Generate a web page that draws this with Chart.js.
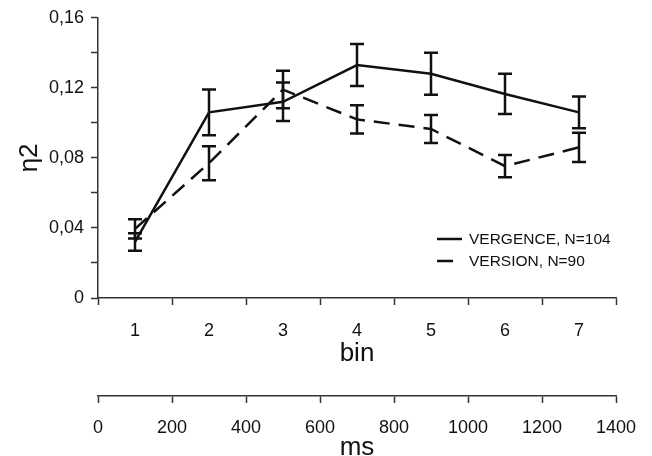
<html>
<head>
<meta charset="UTF-8">
<title>eta2 by bin</title>
<style>
  body { margin: 0; background: #fff; }
  #wrap { width: 652px; height: 456px; }
</style>
</head>
<body>
<div id="wrap"><canvas id="myChart"></canvas></div>

<script src="https://cdn.jsdelivr.net/npm/chart.js@4"></script>
<script>
// values
const bins = ['1', '2', '3', '4', '5', '6', '7'];
const vergence    = [0.032, 0.106, 0.112, 0.133, 0.128, 0.1165, 0.106];
const vergenceErr = [0.005, 0.013, 0.011, 0.012, 0.012, 0.0115, 0.009];
const version     = [0.0395, 0.077, 0.119, 0.102, 0.0965, 0.0753, 0.086];
const versionErr  = [0.0055, 0.0097, 0.0107, 0.008, 0.008, 0.0063, 0.0083];
const yTicks = [0, 0.04, 0.08, 0.12, 0.16];
const msTicks = [0, 200, 400, 600, 800, 1000, 1200, 1400];

const font = 'Liberation Sans, Arial, sans-serif';
const ink = '#111';
const axisCol = '#333';

// error bars, drawn through the chart scales
const errorBars = {
  id: 'errorBars',
  afterDatasetsDraw(chart) {
    const ctx = chart.ctx, xs = chart.scales.x, ys = chart.scales.y;
    const sets = [[vergence, vergenceErr], [version, versionErr]];
    ctx.save();
    ctx.strokeStyle = ink;
    ctx.lineWidth = 2.5;
    ctx.setLineDash([]);
    sets.forEach(([vals, errs]) => {
      vals.forEach((v, i) => {
        const x = xs.getPixelForValue(i);
        const top = ys.getPixelForValue(v + errs[i]);
        const bot = ys.getPixelForValue(v - errs[i]);
        ctx.beginPath();
        ctx.moveTo(x, top); ctx.lineTo(x, bot);
        ctx.moveTo(x - 7, top); ctx.lineTo(x + 7, top);
        ctx.moveTo(x - 7, bot); ctx.lineTo(x + 7, bot);
        ctx.stroke();
      });
    });
    ctx.restore();
  }
};

// legend inside the plot, lower right
const lineLegend = {
  id: 'lineLegend',
  afterDraw(chart) {
    const ctx = chart.ctx;
    const ds = chart.data.datasets;
    ctx.save();
    ctx.font = '15.5px ' + font;
    ctx.fillStyle = ink;
    ctx.textBaseline = 'middle';
    ds.forEach((d, i) => {
      const y = 239 + i * 22;
      ctx.strokeStyle = ink;
      ctx.lineWidth = 2.5;
      ctx.setLineDash(d.borderDash || []);
      ctx.beginPath();
      ctx.moveTo(437, y); ctx.lineTo(462, y);
      ctx.stroke();
      ctx.setLineDash([]);
      ctx.fillText(d.label, 469, y + 1);
    });
    ctx.restore();
  }
};

new Chart(document.getElementById('myChart'), {
  type: 'line',
  data: {
    labels: bins,
    datasets: [
      { label: 'VERGENCE, N=104', data: vergence, borderColor: ink, borderWidth: 2.5,
        pointRadius: 0, tension: 0, fill: false },
      { label: 'VERSION, N=90', data: version, borderColor: ink, borderWidth: 2.5,
        borderDash: [16, 9], pointRadius: 0, tension: 0, fill: false }
    ]
  },
  options: {
    responsive: true,
    maintainAspectRatio: false,
    animation: false,
    layout: { padding: { left: 0, right: 36, top: 17, bottom: 0 } },
    plugins: { legend: { display: false }, tooltip: { enabled: false } },
    scales: {
      x: {
        type: 'category',
        position: 'bottom',
        offset: true,
        grid: { offset: true, drawOnChartArea: false, tickLength: 7, color: axisCol, tickWidth: 1.5 },
        border: { color: axisCol, width: 1.5 },
        ticks: { color: ink, padding: 15, font: { family: font, size: 18 } },
        title: { display: true, text: 'bin', color: ink, font: { family: font, size: 26 },
                 padding: { top: 0, bottom: 27 } },
        afterFit: (s) => { s.height = 98; }
      },
      ms: {
        type: 'linear',
        position: 'bottom',
        min: 0, max: 1400,
        afterBuildTicks: (s) => { s.ticks = msTicks.map(v => ({ value: v })); },
        grid: { drawOnChartArea: false, tickLength: 7, color: axisCol, tickWidth: 1.5 },
        border: { color: axisCol, width: 1.5 },
        ticks: { color: ink, padding: 14, font: { family: font, size: 18 }, maxRotation: 0,
                 autoSkip: false, callback: (v) => String(v) },
        title: { display: true, text: 'ms', color: ink,
                 font: { family: font, size: 26, lineHeight: 0.5 },
                 padding: { top: 0, bottom: 2 } },
        afterFit: (s) => { s.height = 60; }
      },
      y: {
        min: 0, max: 0.16,
        ticks: {
          stepSize: 0.02,
          color: ink, padding: 7,
          font: { family: font, size: 18 },
          callback: (v) => {
            const hit = yTicks.find(t => Math.abs(t - v) < 1e-9);
            if (hit === undefined) return '';
            return hit === 0 ? '0' : hit.toFixed(2).replace('.', ',');
          }
        },
        grid: { drawOnChartArea: false, tickLength: 7, color: axisCol, tickWidth: 1.5 },
        border: { color: axisCol, width: 1.5 },
        title: { display: true, text: 'η2', color: ink, font: { family: font, size: 26 },
                 padding: { top: 14, bottom: 0 } },
        afterFit: (s) => { s.width = 98; }
      }
    }
  },
  plugins: [errorBars, lineLegend]
});
</script>
</body>
</html>
